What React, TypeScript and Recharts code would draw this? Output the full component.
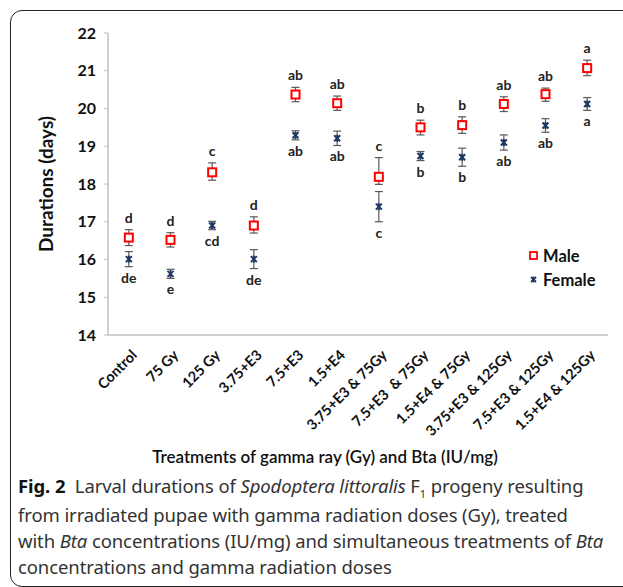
import React from 'react';
import { ComposedChart, Line, XAxis, YAxis, ErrorBar, LabelList, Label } from 'recharts';

const categories = [
  'Control', '75 Gy', '125 Gy', '3.75+E3', '7.5+E3', '1.5+E4',
  '3.75+E3 & 75Gy', '7.5+E3  & 75Gy', '1.5+E4 & 75Gy',
  '3.75+E3 & 125Gy', '7.5+E3 & 125Gy', '1.5+E4 & 125Gy',
];
const maleMean = [16.58, 16.52, 18.31, 16.9, 20.37, 20.14, 18.19, 19.5, 19.56, 20.12, 20.38, 21.07];
const maleErrDown = [0.21, 0.19, 0.21, 0.2, 0.19, 0.19, 0.2, 0.2, 0.22, 0.2, 0.19, 0.2];
const maleErrUp = [0.21, 0.19, 0.25, 0.23, 0.19, 0.19, 0.51, 0.19, 0.22, 0.19, 0.16, 0.21];
const femaleMean = [16.01, 15.62, 16.9, 16.01, 19.29, 19.21, 17.4, 18.74, 18.71, 19.1, 19.55, 20.12];
const femaleErr = [0.2, 0.12, 0.11, 0.25, 0.12, 0.19, 0.4, 0.12, 0.24, 0.2, 0.18, 0.17];
const maleLetters = ['d', 'd', 'c', 'd', 'ab', 'ab', 'c', 'b', 'b', 'ab', 'ab', 'a'];
const femaleLetters = ['de', 'e', 'cd', 'de', 'ab', 'ab', 'c', 'b', 'b', 'ab', 'ab', 'a'];
const yTicks = [14, 15, 16, 17, 18, 19, 20, 21, 22];

const data = categories.map((name, i) => ({
  name,
  male: maleMean[i],
  maleErr: [maleErrDown[i], maleErrUp[i]],
  maleLetter: maleLetters[i],
  female: femaleMean[i],
  femaleErr: femaleErr[i],
  femaleLetter: femaleLetters[i],
}));

const FONT = 'Lato, "Open Sans", sans-serif';
const RED = '#ff0000';
const NAVY = '#1f3864';
const Y_MIN = 14;
const Y_MAX = 22;
const CHART_H = 440;
const MARGIN = { top: 33, right: 15, left: 48, bottom: 5 };
const X_AXIS_H = 100;
const PX_PER_DAY = (CHART_H - MARGIN.top - MARGIN.bottom - X_AXIS_H) / (Y_MAX - Y_MIN);

const MaleDot = (props: any) => {
  const { cx, cy, index } = props;
  if (cx == null || cy == null) return null;
  return <rect key={`m${index}`} x={cx - 4} y={cy - 4} width={8} height={8} fill="#fff" stroke={RED} strokeWidth={2} />;
};

const FemaleDot = (props: any) => {
  const { cx, cy, index } = props;
  if (cx == null || cy == null) return null;
  return (
    <g key={`f${index}`} stroke={NAVY} strokeWidth={2}>
      <line x1={cx - 3} y1={cy - 3} x2={cx + 3} y2={cy + 3} />
      <line x1={cx - 3} y1={cy + 3} x2={cx + 3} y2={cy - 3} />
      <line x1={cx} y1={cy - 3.5} x2={cx} y2={cy + 3.5} />
    </g>
  );
};

const maleLabel = (props: any) => {
  const { x, y, value, index } = props;
  const top = y - maleErrUp[index] * PX_PER_DAY;
  return (
    <text x={x} y={top - 7} textAnchor="middle" fontFamily={FONT} fontWeight="bold" fontSize={14} fill="#222">
      {value}
    </text>
  );
};

const femaleLabel = (props: any) => {
  const { x, y, value, index } = props;
  const bottom = y + femaleErr[index] * PX_PER_DAY;
  return (
    <text x={x} y={bottom + 16} textAnchor="middle" fontFamily={FONT} fontWeight="bold" fontSize={14} fill="#222">
      {value}
    </text>
  );
};

const XTick = (props: any) => {
  const { x, y, payload } = props;
  return (
    <g transform={`translate(${x + 9},${y + 13}) rotate(-45)`}>
      <text x={0} y={0} textAnchor="end" fontFamily={FONT} fontWeight="bold" fontSize={14.5} fill="#111" style={{ whiteSpace: 'pre' }}>
        {payload.value}
      </text>
    </g>
  );
};

const YTitle = (props: any) => {
  const { viewBox } = props;
  const cx = viewBox.x - 3;
  const cy = viewBox.y + viewBox.height / 2;
  return (
    <text x={cx} y={cy} transform={`rotate(-90, ${cx}, ${cy})`} textAnchor="middle" dominantBaseline="central"
      fontFamily={FONT} fontWeight="bold" fontSize={19} fill="#111">
      Durations (days)
    </text>
  );
};

export default function App() {
  return (
    <div style={{ position: 'fixed', left: 0, top: 0, width: 623, height: 587, overflow: 'hidden', background: '#fff' }}>
      <div style={{ position: 'absolute', left: 10, top: 10, width: 700, height: 575, border: '1.5px solid #222', borderRadius: 12 }} />
      <div style={{ position: 'absolute', left: 0, top: 0 }}>
        <ComposedChart width={623} height={CHART_H} data={data} margin={MARGIN}>
          <XAxis
            dataKey="name"
            scale="band"
            interval={0}
            height={X_AXIS_H}
            axisLine={{ stroke: '#c0c0c0', strokeWidth: 1.5 }}
            tickLine={false}
            tick={<XTick />}
          />
          <YAxis
            domain={[Y_MIN, Y_MAX]}
            ticks={yTicks}
            width={60}
            tickSize={4}
            tickMargin={8}
            axisLine={{ stroke: '#c0c0c0', strokeWidth: 1.5 }}
            tickLine={{ stroke: '#c0c0c0' }}
            tick={{ fontFamily: FONT, fontWeight: 'bold', fontSize: 16, fill: '#111' }}
          >
            <Label content={<YTitle />} />
          </YAxis>
          <Line dataKey="male" stroke="none" dot={MaleDot} activeDot={false} isAnimationActive={false}>
            <ErrorBar dataKey="maleErr" direction="y" width={4} stroke="#595959" strokeWidth={1.2} />
            <LabelList dataKey="maleLetter" content={maleLabel} />
          </Line>
          <Line dataKey="female" stroke="none" dot={FemaleDot} activeDot={false} isAnimationActive={false}>
            <ErrorBar dataKey="femaleErr" direction="y" width={4} stroke="#595959" strokeWidth={1.2} />
            <LabelList dataKey="femaleLetter" content={femaleLabel} />
          </Line>
        </ComposedChart>
      </div>
      <svg style={{ position: 'absolute', left: 520, top: 244 }} width={100} height={50}>
        <rect x={10} y={8} width={7} height={7} fill="#fff" stroke={RED} strokeWidth={1.8} />
        <text x={23} y={18} fontFamily={FONT} fontWeight="bold" fontSize={16.5} fill="#111">Male</text>
        <g stroke={NAVY} strokeWidth={1.8}>
          <line x1={11} y1={33} x2={16} y2={38} />
          <line x1={11} y1={38} x2={16} y2={33} />
          <line x1={13.5} y1={32.5} x2={13.5} y2={38.5} />
        </g>
        <text x={23} y={42} fontFamily={FONT} fontWeight="bold" fontSize={16.5} fill="#111">Female</text>
      </svg>
      <div style={{ position: 'absolute', left: 0, width: 650, top: 446, textAlign: 'center', fontFamily: FONT, fontWeight: 600, fontSize: 17, color: '#111' }}>
        Treatments of gamma ray (Gy) and Bta (IU/mg)
      </div>
      <div style={{ position: 'absolute', left: 18, top: 473, width: 620, whiteSpace: 'nowrap', fontFamily: '"Noto Sans", sans-serif', fontSize: 18.5, lineHeight: '26px', color: '#333', letterSpacing: -0.1 }}>
        <b style={{ color: '#111' }}>Fig. 2</b>&nbsp; Larval durations of <i>Spodoptera littoralis</i> F<span style={{ fontSize: 11, position: 'relative', top: 5 }}>1</span> progeny resulting<br />
        from irradiated pupae with gamma radiation doses (Gy), treated<br />
        with <i>Bta</i> concentrations (IU/mg) and simultaneous treatments of <i>Bta</i><br />
        concentrations and gamma radiation doses
      </div>
    </div>
  );
}
